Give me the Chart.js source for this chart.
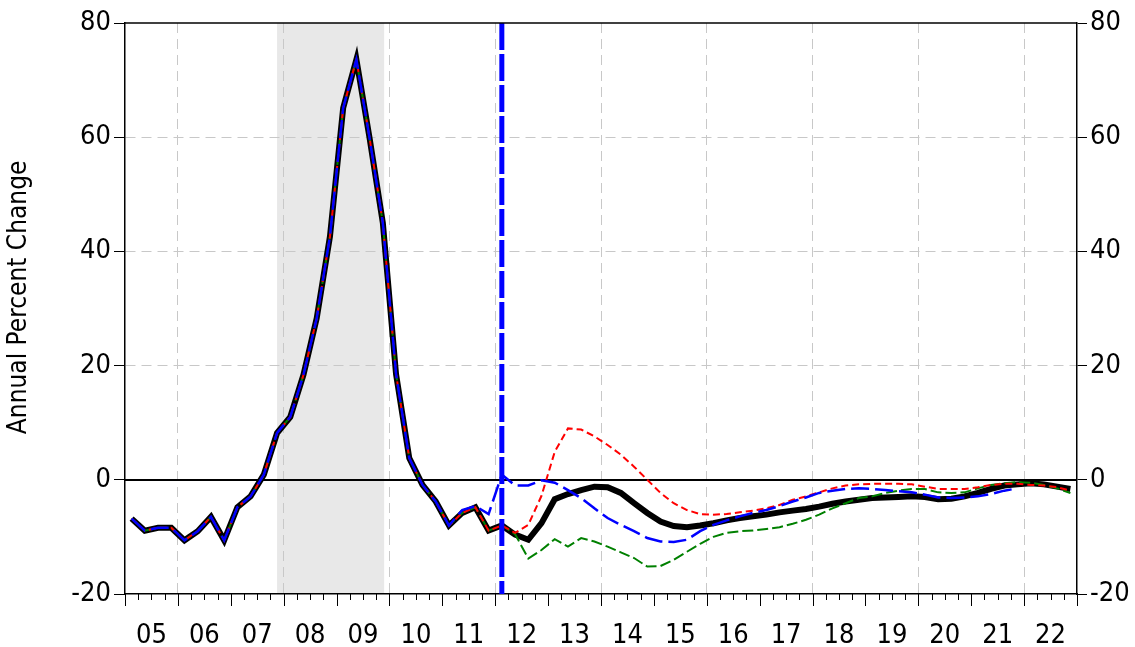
<!DOCTYPE html>
<html>
<head>
<meta charset="utf-8">
<script src="https://cdn.jsdelivr.net/npm/chart.js@4.4.1/dist/chart.umd.min.js"></script>
<style>
  body { margin: 0; background: #fff; }
  canvas { display: block; }
</style>
</head>
<body>
<canvas id="fcChart" width="1135" height="647"></canvas>
<script>
// Year labels, one per year, 2005 to 2022 (quarterly data underneath)
var years = ['05', '06', '07', '08', '09', '10', '11', '12', '13', '14', '15', '16', '17', '18', '19', '20', '21', '22'];

// Actuals 2005Q1 - 2012Q1, shared by all scenarios
var actual = [-6.8, -8.9, -8.4, -8.4, -10.6, -9.0, -6.5, -10.6, -4.8, -2.9, 0.9, 8.2,
              11.0, 18.4, 28.3, 42.6, 65.1, 73.6, 59.8, 45.0, 18.5, 3.8, -0.9, -3.8,
              -8.0, -5.8, -4.8, -8.9, -8.0];

// Forecasts from 2012Q2 to 2022Q4
var baseline = [-9.6, -10.5, -7.6, -3.4, -2.5, -1.8, -1.2, -1.3, -2.3, -4.1, -5.8, -7.3,
                -8.1, -8.3, -8.0, -7.6, -7.1, -6.7, -6.4, -6.1, -5.7, -5.4, -5.1, -4.7,
                -4.2, -3.8, -3.5, -3.2, -3.1, -3.0, -2.9, -3.0, -3.4, -3.3, -2.9, -2.3,
                -1.6, -1.0, -0.8, -0.6, -0.8, -1.2, -1.6];
var upside = [-9.3, -7.9, -2.8, 4.9, 9.0, 8.8, 7.6, 6.1, 4.4, 2.3, 0.0, -2.3,
              -4.1, -5.3, -6.0, -6.1, -6.0, -5.7, -5.4, -5.0, -4.4, -3.5, -2.9, -2.2,
              -1.5, -1.0, -0.8, -0.7, -0.7, -0.7, -0.8, -1.2, -1.6, -1.6, -1.6, -1.3,
              -0.9, -0.7, -0.7, -0.9, -1.0, -1.3, -1.9];
var downside = [-9.5, -13.8, -12.3, -10.4, -11.7, -10.2, -10.8, -11.7, -12.7, -13.7, -15.2, -15.1,
                -14.0, -12.6, -11.2, -10.0, -9.3, -9.0, -8.9, -8.6, -8.3, -7.7, -7.0, -6.1,
                -5.0, -4.1, -3.2, -2.9, -2.3, -1.9, -1.6, -1.6, -2.2, -2.3, -2.2, -1.5,
                -0.9, -0.6, -0.4, -0.5, -0.9, -1.5, -2.3];
// Alternative series: own values for 2011Q2 - 2012Q1, then 2012Q2 - 2021Q4
var altRecent = [-5.3, -4.6, -6.0, 0.9];
var alternative = [-1.0, -1.0, -0.1, -0.5, -1.8, -3.2, -5.0, -6.7, -7.9, -9.0, -10.2, -10.8,
                   -10.9, -10.5, -9.0, -7.9, -7.1, -6.4, -5.8, -5.3, -4.6, -3.8, -3.1, -2.3,
                   -1.9, -1.6, -1.5, -1.6, -1.8, -2.0, -2.2, -2.6, -3.1, -3.2, -3.1, -2.9,
                   -2.5, -1.9, -1.5];

var recession = [11.5, 19.6];   // shaded span, in quarters from 2005Q1
var forecastStart = 28.5;       // vertical marker

function toPoints(values) {
    return values.map(function (v, i) { return { x: i + 0.5, y: v }; });
}

var altSeries = actual.slice(0, 25).concat(altRecent, alternative);

var FONT = "'Liberation Sans Narrow', 'DejaVu Sans Condensed', sans-serif";

var decorations = {
    id: 'decorations',
    beforeDraw: function (chart) {
        var ctx = chart.ctx, a = chart.chartArea, x = chart.scales.x;
        ctx.save();
        ctx.fillStyle = '#e8e8e8';
        var x0 = x.getPixelForValue(recession[0]), x1 = x.getPixelForValue(recession[1]);
        ctx.fillRect(x0, a.top, x1 - x0, a.bottom - a.top);
        ctx.restore();
    },
    beforeDatasetsDraw: function (chart) {
        var ctx = chart.ctx, a = chart.chartArea, y = chart.scales.y;
        ctx.save();
        ctx.strokeStyle = '#000';
        ctx.lineWidth = 2;
        var y0 = Math.round(y.getPixelForValue(0));
        ctx.beginPath();
        ctx.moveTo(a.left, y0);
        ctx.lineTo(a.right, y0);
        ctx.stroke();
        ctx.restore();
    },
    afterDatasetsDraw: function (chart) {
        var ctx = chart.ctx, a = chart.chartArea, x = chart.scales.x;
        ctx.save();
        ctx.strokeStyle = '#0000ff';
        ctx.lineWidth = 5;
        ctx.setLineDash([27, 4]);
        var xv = x.getPixelForValue(forecastStart);
        ctx.beginPath();
        ctx.moveTo(xv, a.top);
        ctx.lineTo(xv, a.bottom);
        ctx.stroke();
        ctx.setLineDash([]);
        // top frame
        ctx.strokeStyle = '#000';
        ctx.lineWidth = 1.5;
        ctx.beginPath();
        ctx.moveTo(a.left, a.top);
        ctx.lineTo(a.right, a.top);
        ctx.stroke();
        // quarter and year tick marks under the x axis
        ctx.lineWidth = 1;
        for (var i = 0; i <= years.length * 4; i++) {
            var px = Math.round(x.getPixelForValue(i)) + 0.5;
            ctx.beginPath();
            ctx.moveTo(px, a.bottom);
            ctx.lineTo(px, a.bottom + (i % 4 === 0 ? 12 : 6));
            ctx.stroke();
        }
        ctx.restore();
    }
};

var ctx = document.getElementById('fcChart');

var fcChart = new Chart(ctx, {
    type: 'line',
    data: {
        datasets: [
            {
                data: toPoints(actual.concat(baseline)),
                borderColor: '#000000',
                borderWidth: 6,
                order: 4
            },
            {
                data: toPoints(altSeries),
                borderColor: '#0000ff',
                borderWidth: 2.5,
                borderDash: [18, 6],
                order: 1
            },
            {
                data: toPoints(actual.concat(upside)),
                borderColor: '#ff0000',
                borderWidth: 2,
                borderDash: [7, 4],
                order: 2
            },
            {
                data: toPoints(actual.concat(downside)),
                borderColor: '#008000',
                borderWidth: 2,
                borderDash: [11, 4],
                order: 3
            }
        ]
    },
    options: {
        responsive: false,
        animation: false,
        layout: { padding: { top: 23, left: 0, right: 0, bottom: 0 } },
        plugins: { legend: { display: false }, tooltip: { enabled: false } },
        elements: { point: { radius: 0 }, line: { tension: 0, fill: false } },
        scales: {
            x: {
                type: 'linear',
                min: 0,
                max: years.length * 4,
                afterBuildTicks: function (scale) {
                    var t = [];
                    for (var i = 0; i <= years.length * 4; i++) t.push({ value: i });
                    scale.ticks = t;
                },
                afterFit: function (scale) { scale.height = 53; },
                ticks: {
                    autoSkip: false,
                    maxRotation: 0,
                    padding: 26,
                    color: '#000',
                    font: { family: FONT, size: 27 },
                    callback: function (v) { return v % 4 === 2 ? years[(v - 2) / 4] : ''; }
                },
                grid: {
                    drawTicks: false,
                    color: function (c) { return c.tick && c.tick.value % 8 === 4 ? '#c8c8c8' : 'rgba(0,0,0,0)'; }
                },
                border: { color: '#000', width: 1.5, dash: [10, 6] }
            },
            y: {
                position: 'left',
                min: -20,
                max: 80,
                afterFit: function (scale) { scale.width = 125; },
                ticks: { stepSize: 20, padding: 3, color: '#000', font: { family: FONT, size: 27 } },
                grid: {
                    tickLength: 11,
                    tickColor: '#000',
                    color: function (c) {
                        var v = c.tick ? c.tick.value : 0;
                        return (v > 0 && v < 80) ? '#c8c8c8' : 'rgba(0,0,0,0)';
                    }
                },
                border: { color: '#000', width: 1.5, dash: [10, 6] },
                title: {
                    display: true,
                    text: '   Annual Percent Change',
                    color: '#000',
                    padding: { top: 4, bottom: 0 },
                    font: { family: FONT, size: 26 }
                }
            },
            y2: {
                position: 'right',
                min: -20,
                max: 80,
                afterFit: function (scale) { scale.width = 58; },
                ticks: { stepSize: 20, padding: 3, color: '#000', font: { family: FONT, size: 27 } },
                grid: { drawOnChartArea: false, tickLength: 10, tickColor: '#000' },
                border: { color: '#000', width: 1.5 }
            }
        }
    },
    plugins: [decorations]
});
</script>
</body>
</html>
